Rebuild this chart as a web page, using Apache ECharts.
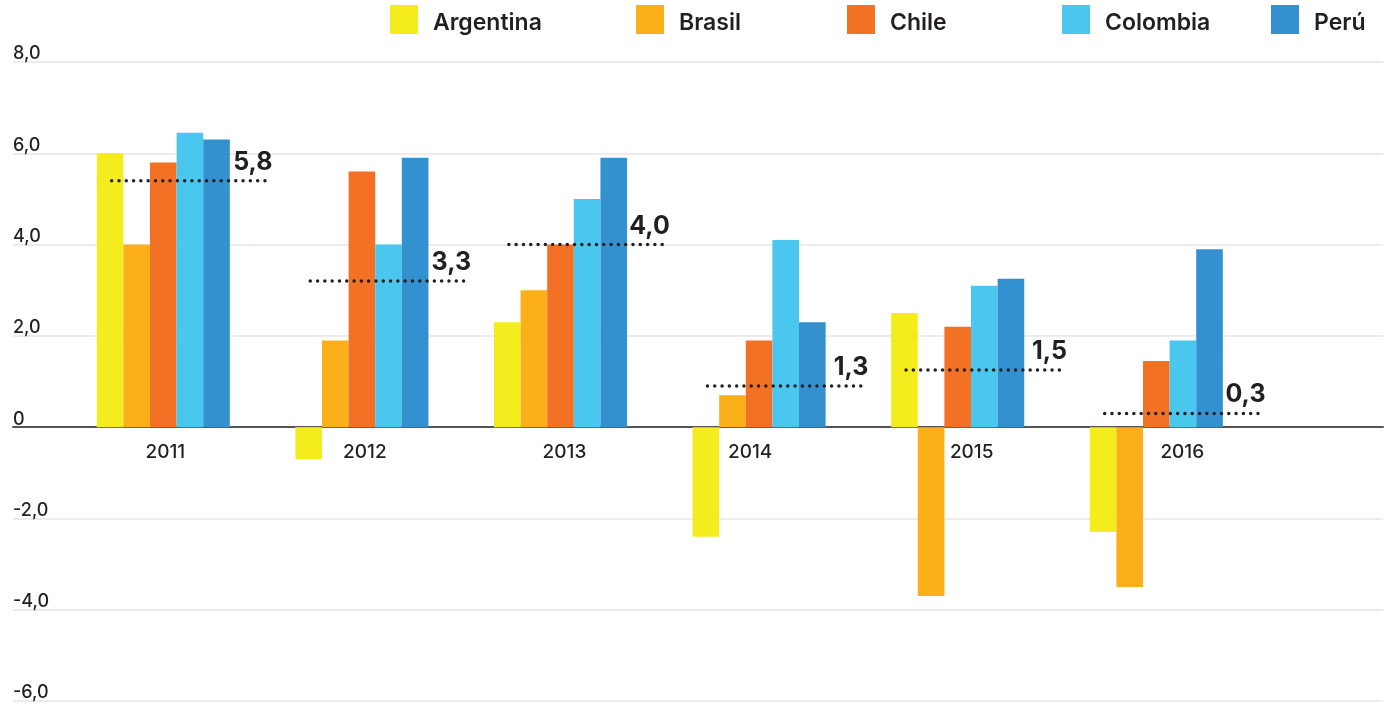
<!DOCTYPE html>
<html>
<head>
<meta charset="utf-8">
<script src="https://cdn.jsdelivr.net/npm/echarts@6/dist/echarts.min.js"></script>
<style>
html,body{margin:0;padding:0;background:#fff;}
#chart{width:1389px;height:704px;}
</style>
</head>
<body>
<div id="chart"></div>
<script>
const categories = ['2011', '2012', '2013', '2014', '2015', '2016'];
const countries = ['Argentina', 'Brasil', 'Chile', 'Colombia', 'Perú'];
const argentina = [6.0, -0.7, 2.3, -2.4, 2.5, -2.3];
const brasil = [4.0, 1.9, 3.0, 0.7, -3.7, -3.5];
const chile = [5.8, 5.6, 4.0, 1.9, 2.2, 1.45];
const colombia = [6.45, 4.0, 5.0, 4.1, 3.1, 1.9];
const peru = [6.3, 5.9, 5.9, 2.3, 3.25, 3.9];
const avgLinePos = [5.4, 3.2, 4.0, 0.9, 1.25, 0.3];
const avgLabels = ['5,8', '3,3', '4,0', '1,3', '1,5', '0,3'];
const yTicks = { min: -6, max: 8, interval: 2 };

// styling: horizontal nudge (px) of each year label, as in the original layout
const yearLabelShift = [2, 3, 4, -9, 14, 26];

const colors = ['#f5ec1e', '#fbb019', '#f37124', '#49c7ef', '#3491d0'];
const seriesValues = [argentina, brasil, chile, colombia, peru];
const FONT = 'Inter, "Noto Sans", sans-serif';
const TXT = '#231f20';

const legendLefts = [390, 636, 847, 1062, 1271];
const GRID_TOP = 62, GRID_H = 639;
const zeroOffset = -GRID_H * (0 - yTicks.min) / (yTicks.max - yTicks.min);

const chart = echarts.init(document.getElementById('chart'));

const barSeries = countries.map((name, i) => ({
  name: name,
  type: 'bar',
  xAxisIndex: 1,
  yAxisIndex: 1,
  data: seriesValues[i],
  itemStyle: { color: colors[i] },
  barGap: '0%',
  barCategoryGap: '33%',
  z: 2
}));

const avgSeries = {
  type: 'custom',
  xAxisIndex: 1,
  yAxisIndex: 1,
  z: 5,
  data: avgLinePos.map((v, i) => [i, v, avgLabels[i]]),
  renderItem: function (params, api) {
    const p = api.coord([api.value(0), api.value(1)]);
    const band = api.size([1, 0])[0];
    const x1 = p[0] - 0.26 * band;
    const x2 = p[0] + 0.545 * band;
    return {
      type: 'group',
      children: [
        {
          type: 'line',
          shape: { x1: x1, y1: p[1], x2: x2, y2: p[1] },
          style: { stroke: TXT, lineWidth: 3.5, lineDash: [0, 7.3], lineCap: 'round' }
        },
        {
          type: 'text',
          style: {
            text: avgLabels[params.dataIndex],
            x: x2 + 1,
            y: p[1] - 6,
            align: 'right',
            verticalAlign: 'bottom',
            fill: TXT,
            font: '700 25px ' + FONT
          }
        }
      ]
    };
  }
};

const yearRich = {};
yearLabelShift.forEach((s, i) => {
  yearRich['y' + i] = {
    fontFamily: FONT, fontSize: 19, fontWeight: 500, color: TXT,
    padding: s >= 0 ? [0, 0, 0, 2 * s] : [0, -2 * s, 0, 0]
  };
});

const option = {
  animation: false,
  backgroundColor: '#fff',
  legend: countries.map((name, i) => ({
    data: [name],
    left: legendLefts[i],
    top: 5,
    itemWidth: 28,
    itemHeight: 29,
    itemGap: 0,
    padding: 0,
    icon: 'rect',
    selectedMode: false,
    formatter: function (n) { return '{t|' + n + '}'; },
    textStyle: {
      padding: [7, 0, 0, 10],
      rich: { t: { fontFamily: FONT, fontSize: 23, fontWeight: 600, color: TXT } }
    }
  })),
  grid: [
    { left: 13, right: 6, top: GRID_TOP, height: GRID_H, outerBoundsMode: 'none', containLabel: false },
    { left: 64, width: 1191.6, top: GRID_TOP, height: GRID_H, outerBoundsMode: 'none', containLabel: false }
  ],
  xAxis: [
    {
      gridIndex: 0,
      type: 'value',
      min: 0, max: 1,
      axisLine: { show: true, onZero: true, onZeroAxisIndex: 0, lineStyle: { color: '#555', width: 2 } },
      axisTick: { show: false },
      axisLabel: { show: false },
      splitLine: { show: false }
    },
    {
      gridIndex: 1,
      type: 'category',
      data: categories,
      position: 'bottom',
      offset: zeroOffset,
      axisLine: { show: false, onZero: false },
      axisTick: { show: false },
      axisLabel: {
        margin: 16,
        fontFamily: FONT, fontSize: 19, fontWeight: 500, color: TXT,
        formatter: function (v, idx) { return '{y' + idx + '|' + v + '}'; },
        rich: yearRich
      },
      splitLine: { show: false }
    }
  ],
  yAxis: [
    {
      gridIndex: 0,
      type: 'value',
      min: yTicks.min, max: yTicks.max, interval: yTicks.interval,
      axisLine: { show: false, onZero: false },
      axisTick: { show: false },
      splitLine: { show: true, lineStyle: { color: '#ececec', width: 2 } },
      axisLabel: {
        inside: true,
        margin: 0,
        verticalAlign: 'bottom',
        lineHeight: 18,
        padding: [0, 0, -1, 0],
        fontFamily: FONT, fontSize: 18, fontWeight: 500, color: TXT,
        formatter: function (v) { return v === 0 ? '0' : v.toFixed(1).replace('.', ','); }
      }
    },
    {
      gridIndex: 1,
      type: 'value',
      min: yTicks.min, max: yTicks.max, interval: yTicks.interval,
      axisLine: { show: false, onZero: false },
      axisTick: { show: false },
      axisLabel: { show: false },
      splitLine: { show: false }
    }
  ],
  series: barSeries.concat([avgSeries])
};

chart.setOption(option);
</script>
</body>
</html>
